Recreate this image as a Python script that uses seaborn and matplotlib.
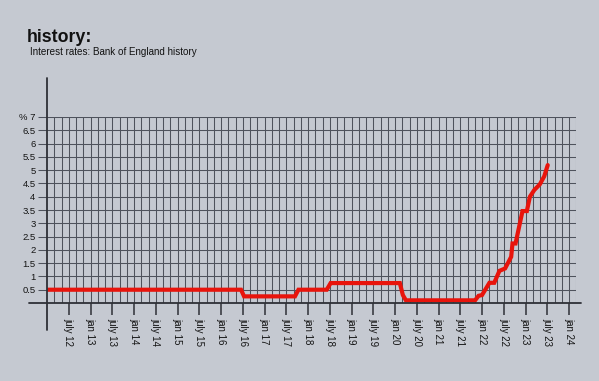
import matplotlib
matplotlib.use("Agg")
import matplotlib.pyplot as plt
import seaborn as sns
import pandas as pd
import numpy as np

# Bank of England base rate (decimal years)
anos = [2012.00, 2016.46, 2016.53, 2017.70, 2017.78, 2018.43, 2018.52,
        2020.11, 2020.18, 2020.25, 2021.84, 2021.92, 2022.00, 2022.17,
        2022.28, 2022.40, 2022.53, 2022.67, 2022.70, 2022.77, 2022.93,
        2023.03, 2023.10, 2023.20, 2023.33, 2023.43, 2023.51]
taxas = [0.50, 0.50, 0.25, 0.25, 0.50, 0.50, 0.75,
         0.75, 0.30, 0.10, 0.10, 0.27, 0.30, 0.76,
         0.76, 1.21, 1.30, 1.74, 2.24, 2.24, 3.46,
         3.46, 4.00, 4.25, 4.47, 4.77, 5.19]

rotulos_x = ["july 12", "jan 13", "july 13", "jan 14", "july 14", "jan 15",
             "july 15", "jan 16", "july 16", "jan 17", "july 17", "jan 18",
             "july 18", "jan 19", "july 19", "jan 20", "july 20", "jan 21",
             "july 21", "jan 22", "july 22", "jan 23", "july 23", "jan 24"]
posicoes_x = [2012.5 + 0.5 * i for i in range(len(rotulos_x))]

valores_y = [0.5 * i for i in range(1, 15)]
rotulos_y = ["0.5", "1", "1.5", "2", "2.5", "3", "3.5", "4", "4.5", "5",
             "5.5", "6", "6.5", "% 7"]

fundo = "#c5c9d1"
cor_grade = "#4e525c"
cor_eixo = "#2e3036"

sns.set_theme(style="white", rc={"figure.facecolor": fundo, "axes.facecolor": fundo})
plt.rcParams["font.family"] = ["Liberation Sans", "DejaVu Sans"]

df = pd.DataFrame({"ano": anos, "taxa": taxas})

fig = plt.figure(figsize=(5.99, 3.81), dpi=100)
ax = fig.add_axes([47 / 599, 78 / 381, 529.3 / 599, 186 / 381])

sns.lineplot(data=df, x="ano", y="taxa", ax=ax, color="#e8140c",
             linewidth=3.0, zorder=5, solid_joinstyle="miter")

ax.set_xlim(2012, 2012 + 73 / 6)
ax.set_ylim(0, 7)

# grade: linhas verticais a cada 2 meses, horizontais a cada 0.5
for xg in np.arange(2012 + 1 / 6, 2012 + 73 / 6 + 0.01, 1 / 6):
    ax.axvline(xg, color=cor_grade, linewidth=0.75, zorder=1)
for yg in valores_y:
    ax.axhline(yg, color=cor_grade, linewidth=0.75, zorder=1)

for s in ax.spines.values():
    s.set_visible(False)

# eixos desenhados a mao
ax.axhline(0, xmin=-0.034, xmax=1.008, color=cor_eixo, linewidth=1.3,
           clip_on=False, zorder=6)
ax.axvline(2012, ymin=-0.145, ymax=1.21, color=cor_eixo, linewidth=1.3,
           clip_on=False, zorder=6)

ax.set_xticks(posicoes_x)
ax.set_xticklabels(rotulos_x, rotation=270, fontsize=7.0, color="#141414")
ax.set_yticks(valores_y)
ax.set_yticklabels(rotulos_y, fontsize=6.8, color="#141414")
ax.tick_params(axis="x", direction="out", length=8.5, width=1.1,
               color=cor_eixo, pad=2.5, bottom=True)
ax.tick_params(axis="y", direction="out", length=6.8, width=0.75,
               color=cor_grade, pad=1.5, left=True)
for lbl in ax.get_xticklabels():
    lbl.set_ha("center")
    lbl.set_va("top")
ax.set_xlabel("")
ax.set_ylabel("")

fig.text(27 / 599, 1 - 42 / 381, "history:", fontsize=12.8,
         fontweight="bold", va="baseline", color="#111111")
fig.text(30 / 599, 1 - 55 / 381, "Interest rates: Bank of England history",
         fontsize=7.1, va="baseline", color="#111111")

plt.savefig("out.png", dpi=100, facecolor=fundo)
